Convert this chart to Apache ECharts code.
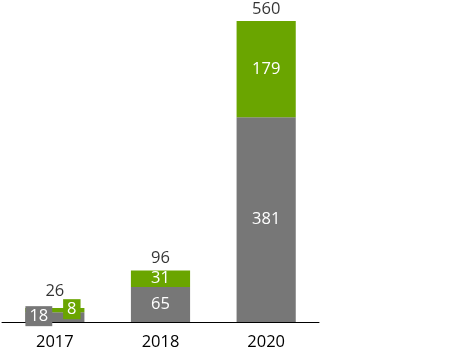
<!DOCTYPE html>
<html>
<head>
<meta charset="utf-8">
<script src="https://cdn.jsdelivr.net/npm/echarts@6/dist/echarts.min.js"></script>
<style>
  html, body { margin: 0; padding: 0; background: #fff; }
  #chart { width: 465px; height: 351px; }
</style>
</head>
<body>
<div id="chart"></div>
<script>
const years = ["2017", "2018", "2020"];
const grayVals = [18, 65, 381];
const greenVals = [8, 31, 179];
const totals = [26, 96, 560];

const FONT = "Open Sans";
const GRAY = "#777777";
const GREEN = "#6aa500";

document.addEventListener("DOMContentLoaded", () => {
  const chart = echarts.init(document.getElementById("chart"));

  // the first category has tiny segments, so its labels sit in little boxes beside each other
  const grayData = grayVals.map((v, i) => i === 0
    ? { value: v, label: { backgroundColor: GRAY, padding: [2, 4, 1, 4], offset: [-16, -1] } }
    : v);
  const greenData = greenVals.map((v, i) => i === 0
    ? { value: v, label: { backgroundColor: GREEN, padding: [2, 4, 1, 4], offset: [17, -1] } }
    : v);

  const option = {
    animation: false,
    grid: { left: 2, right: 146, top: 21, bottom: 29 },
    xAxis: {
      type: "category",
      data: years,
      axisLine: { lineStyle: { color: "#000", width: 1 } },
      axisTick: { show: false },
      axisLabel: { color: "#000", fontFamily: FONT, fontSize: 16.5, margin: 12 }
    },
    yAxis: {
      type: "value",
      min: 0,
      max: 560,
      show: false,
      splitLine: { show: false }
    },
    series: [
      {
        type: "bar",
        stack: "a",
        data: grayData,
        barWidth: "56%",
        itemStyle: { color: GRAY },
        label: { show: true, position: "inside", color: "#fff", fontFamily: FONT, fontSize: 16.5 }
      },
      {
        type: "bar",
        stack: "a",
        data: greenData,
        itemStyle: { color: GREEN },
        label: { show: true, position: "inside", color: "#fff", fontFamily: FONT, fontSize: 16.5 }
      },
      {
        type: "scatter",
        data: totals.map((v, i) => i === 0 ? { value: v, label: { offset: [0, -5] } } : v),
        symbolSize: 1,
        itemStyle: { color: "transparent" },
        label: { show: true, position: "top", distance: 3, color: "#000", fontFamily: FONT, fontSize: 16.5 }
      }
    ]
  };

  chart.setOption(option);
  window.addEventListener("resize", () => chart.resize());
});
</script>
</body>
</html>
